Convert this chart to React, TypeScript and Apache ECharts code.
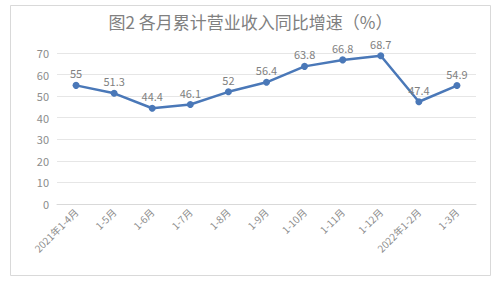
import React, { useEffect, useRef } from "react";
import * as echarts from "echarts";

const categories = [
  "2021年1-4月", "1-5月", "1-6月", "1-7月", "1-8月", "1-9月",
  "1-10月", "1-11月", "1-12月", "2022年1-2月", "1-3月",
];
const growth = [55, 51.3, 44.4, 46.1, 52, 56.4, 63.8, 66.8, 68.7, 47.4, 54.9];
const titleText = "图2 各月累计营业收入同比增速（%）";

const FONT = "'Noto Sans CJK SC', 'Noto Sans', sans-serif";

export default function App() {
  const ref = useRef<HTMLDivElement>(null);
  useEffect(() => {
    if (!ref.current) return;
    const chart = echarts.init(ref.current, null, { renderer: "svg" });
    chart.setOption({
      animation: false,
      backgroundColor: "#ffffff",
      textStyle: { fontFamily: FONT },
      title: {
        text: titleText,
        left: "center",
        top: 12,
        padding: 0,
        textStyle: { fontSize: 17, fontWeight: "normal", color: "#808080", fontFamily: FONT, lineHeight: 18 },
      },
      graphic: [
        {
          type: "rect",
          shape: { x: 10.5, y: 5.5, width: 480, height: 270 },
          style: { fill: "none", stroke: "#d9d9d9", lineWidth: 1 },
          silent: true,
        },
      ],
      grid: { left: 57, right: 25, top: 53, bottom: 80 },
      xAxis: {
        type: "category",
        data: categories,
        boundaryGap: true,
        axisLine: { show: true, lineStyle: { color: "#d9d9d9" } },
        axisTick: { show: false },
        axisLabel: {
          rotate: 45,
          interval: 0,
          fontSize: 10,
          color: "#8c8c8c",
          fontFamily: FONT,
          margin: 6,
        },
      },
      yAxis: {
        type: "value",
        min: 0,
        max: 70,
        interval: 10,
        axisLine: { show: false },
        axisTick: { show: false },
        splitLine: { lineStyle: { color: "#e6e6e6" } },
        axisLabel: { fontSize: 11, color: "#8c8c8c", margin: 8, fontFamily: FONT },
      },
      series: [
        {
          type: "line",
          data: growth,
          symbol: "circle",
          symbolSize: 7,
          lineStyle: { color: "#4a78b8", width: 2.5 },
          itemStyle: { color: "#4a78b8" },
          label: {
            show: true,
            position: "top",
            distance: 3,
            fontSize: 11,
            color: "#7f7f7f",
            fontFamily: FONT,
          },
        },
      ],
    });
    return () => chart.dispose();
  }, []);
  return (
    <div
      ref={ref}
      style={{ position: "fixed", left: 0, top: 0, width: 501, height: 284 }}
    />
  );
}
